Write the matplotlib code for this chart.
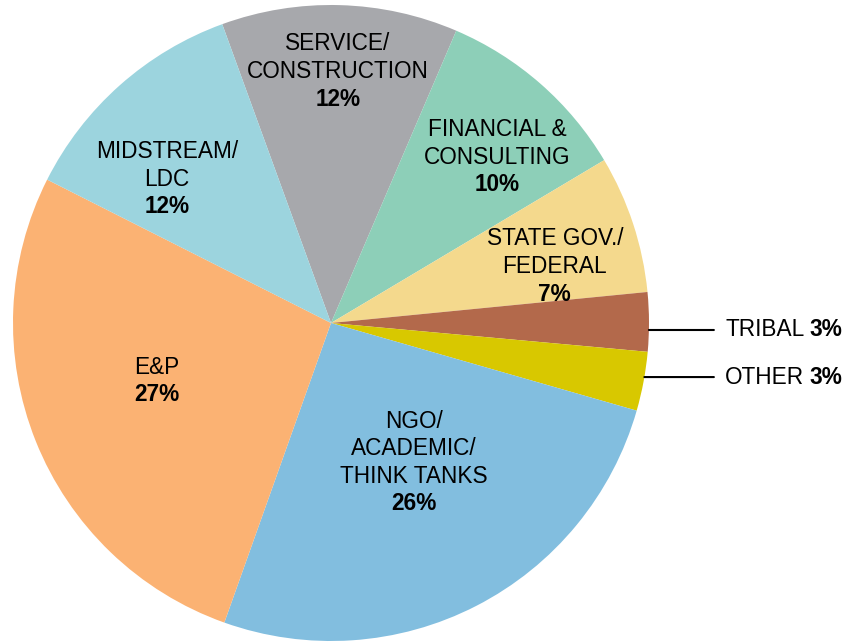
"""
Share of participants by sector, drawn as a pie chart with matplotlib.
"""
import numpy as np
import matplotlib
matplotlib.use("Agg")
import matplotlib.pyplot as plt

plt.rcParams['font.family'] = ['Liberation Sans', 'DejaVu Sans']

# Sectors in clockwise order, starting at the top of the pie
sectors = ['SERVICE/\nCONSTRUCTION', 'FINANCIAL &\nCONSULTING', 'STATE GOV./\nFEDERAL',
           'TRIBAL', 'OTHER', 'NGO/\nACADEMIC/\nTHINK TANKS', 'E&P', 'MIDSTREAM/\nLDC']
shares = [12, 10, 7, 3, 3, 26, 27, 12]
colors = ['#A7A8AC', '#8DCFB8', '#F4D98D', '#B3694B', '#D8C800',
          '#82BEDF', '#FBB273', '#9CD4DE']

# Label anchor for the percentage line of each inside label (data units)
inside_pos = {
    0: (0.022, 0.704),
    1: (0.522, 0.434),
    2: (0.704, 0.091),
    5: (0.261, -0.569),
    6: (-0.547, -0.226),
    7: (-0.515, 0.365),
}
# Outside labels: y of the leader line / text
outside_y = {3: -0.022, 4: -0.170}

FS = 16.3

fig = plt.figure(figsize=(8.46, 6.43), dpi=100)
r_px = 318
cx, cy = 331, 643 - 323
ax = fig.add_axes([(cx - r_px) / 846, (cy - r_px) / 643, 2 * r_px / 846, 2 * r_px / 643])

ax.pie(shares, colors=colors, startangle=110, counterclock=False,
       wedgeprops=dict(linewidth=0))
ax.set_xlim(-1, 1)
ax.set_ylim(-1, 1)
ax.axis('off')

for i, (x, y) in inside_pos.items():
    pct = ax.text(x, y, f'{shares[i]}%', ha='center', va='center',
                  fontsize=FS, fontweight='bold')
    ax.annotate(sectors[i], xy=(0.5, 1), xycoords=pct, xytext=(0, 3.4),
                textcoords='offset points', ha='center', va='bottom',
                fontsize=FS, linespacing=1.25)

for i, y in outside_y.items():
    edge_x = np.sqrt(1 - y ** 2)
    name = ax.annotate(sectors[i], xy=(edge_x, y), xytext=(1.239, y),
                       ha='left', va='center', fontsize=FS,
                       arrowprops=dict(arrowstyle='-', color='black', lw=1.5,
                                       shrinkA=6, shrinkB=0))
    ax.annotate(f'{shares[i]}%', xy=(1, 0), xycoords=name, xytext=(4, 0),
                textcoords='offset points', ha='left', va='bottom',
                fontsize=FS, fontweight='bold')

fig.savefig('out.png', dpi=100)
